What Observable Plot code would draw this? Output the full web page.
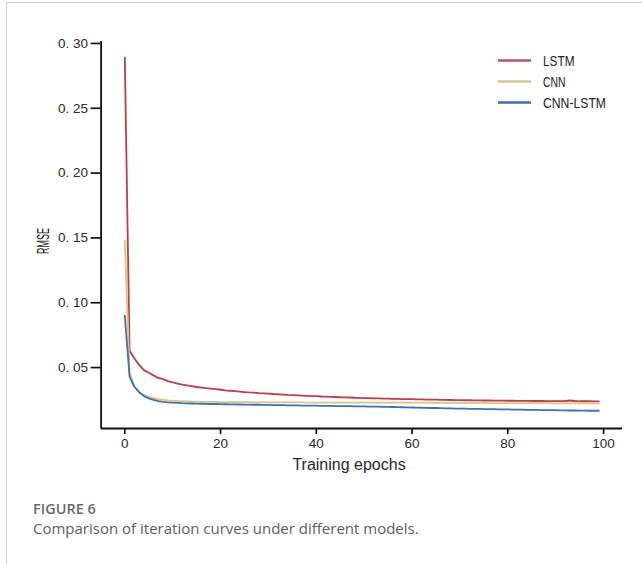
<!DOCTYPE html>
<html>
<head>
<meta charset="utf-8">
<script src="https://cdn.jsdelivr.net/npm/d3@7"></script>
<script src="https://cdn.jsdelivr.net/npm/@observablehq/plot@0.6"></script>
<style>
  html, body { margin: 0; padding: 0; background: #fff; }
  #page { position: relative; width: 642px; height: 564px; overflow: hidden; }
  #frame { position: absolute; left: 6px; top: 2px; right: -2px; bottom: -2px;
           border-left: 1.5px solid #cfcfcf; border-top: 1.5px solid #cfcfcf; }
  #chart { position: absolute; left: 0; top: 0; }
  #legend { position: absolute; left: 0; top: 0; }
  #cap1 { position: absolute; left: 33px; top: 501px; font: 600 14.5px/16px "Open Sans", sans-serif; color: #6a6a6a; }
  #cap2 { position: absolute; left: 33px; top: 519px; font: 400 15px/18px "Open Sans", sans-serif; color: #5e5e5e; }
</style>
</head>
<body>
<div id="page">
  <div id="frame"></div>
  <div id="chart"></div>
  <svg id="legend" width="642" height="140"></svg>
  <div id="cap1">FIGURE 6</div>
  <div id="cap2">Comparison of iteration curves under different models.</div>
</div>
<script>
const seriesNames = ["LSTM", "CNN", "CNN-LSTM"];
const seriesColors = ["#c23b45", "#dcc37e", "#3c6fbd"];
const legendColors = ["#b9525d", "#d9c690", "#3d6db8"];
const xTicks = [0, 20, 40, 60, 80, 100];
const yTicks = [0.05, 0.10, 0.15, 0.20, 0.25, 0.30];
const xTitle = "Training epochs";
const yTitle = "RMSE";

const lstm = [0.289,0.063,0.057,0.052,0.048,0.046,0.044,0.042,0.041,0.0395,
0.0385,0.0376,0.0369,0.0362,0.0356,0.0350,0.0346,0.0341,0.0337,0.0333,
0.0329,0.0324,0.0321,0.0318,0.0315,0.0311,0.0308,0.0306,0.0303,0.0301,
0.0299,0.0296,0.0294,0.0292,0.0289,0.0288,0.0286,0.0284,0.0282,0.0280,
0.0279,0.0277,0.0276,0.0274,0.0273,0.0271,0.0270,0.0269,0.0267,0.0266,
0.0265,0.0264,0.0263,0.0262,0.0261,0.0260,0.0259,0.0258,0.0257,0.0256,
0.0256,0.0255,0.0254,0.0253,0.0252,0.0252,0.0251,0.0251,0.0250,0.0249,
0.0249,0.0248,0.0248,0.0247,0.0247,0.0246,0.0246,0.0245,0.0245,0.0245,
0.0244,0.0244,0.0243,0.0243,0.0243,0.0242,0.0242,0.0242,0.0241,0.0241,
0.0241,0.0241,0.0242,0.0246,0.0242,0.0240,0.0240,0.0240,0.0239,0.0239];

const cnn = [0.148,0.046,0.036,0.031,0.0290,0.0275,0.0265,0.0257,0.0251,0.0247,
0.0244,0.0242,0.0240,0.0239,0.0238,0.0237,0.0236,0.0236,0.0235,0.0235,
0.0234,0.0234,0.0234,0.0233,0.0233,0.0233,0.0233,0.0232,0.0232,0.0232,
0.0232,0.0232,0.0231,0.0231,0.0231,0.0231,0.0231,0.0231,0.0230,0.0230,
0.0230,0.0230,0.0230,0.0230,0.0230,0.0230,0.0230,0.0230,0.0230,0.0230,
0.0230,0.0230,0.0230,0.0229,0.0229,0.0229,0.0229,0.0229,0.0229,0.0229,
0.0229,0.0229,0.0229,0.0229,0.0229,0.0228,0.0228,0.0228,0.0228,0.0228,
0.0228,0.0227,0.0227,0.0227,0.0227,0.0227,0.0226,0.0226,0.0226,0.0226,
0.0226,0.0226,0.0225,0.0225,0.0225,0.0225,0.0225,0.0225,0.0225,0.0224,
0.0224,0.0224,0.0224,0.0224,0.0224,0.0224,0.0224,0.0224,0.0224,0.0224];

const cnnLstm = [0.090,0.043,0.035,0.031,0.0280,0.0262,0.0250,0.0242,0.0236,0.0232,
0.0229,0.0227,0.0225,0.0224,0.0223,0.0222,0.0221,0.0220,0.0219,0.0219,
0.0218,0.0217,0.0216,0.0216,0.0215,0.0214,0.0214,0.0213,0.0213,0.0212,
0.0212,0.0211,0.0210,0.0210,0.0209,0.0209,0.0208,0.0207,0.0207,0.0206,
0.0206,0.0205,0.0205,0.0204,0.0203,0.0203,0.0202,0.0202,0.0201,0.0201,
0.0200,0.0199,0.0199,0.0198,0.0197,0.0197,0.0196,0.0195,0.0194,0.0193,
0.0192,0.0191,0.0190,0.0189,0.0188,0.0188,0.0187,0.0186,0.0185,0.0184,
0.0183,0.0183,0.0182,0.0181,0.0181,0.0180,0.0179,0.0179,0.0178,0.0177,
0.0177,0.0176,0.0175,0.0175,0.0174,0.0173,0.0173,0.0172,0.0172,0.0171,
0.0171,0.0170,0.0170,0.0169,0.0169,0.0168,0.0168,0.0167,0.0167,0.0167];

const seriesValues = [lstm, cnn, cnnLstm];
const rows = [];
seriesValues.forEach((vals, s) => vals.forEach((v, i) => rows.push({epoch: i, rmse: v, model: seriesNames[s]})));

const xDomain = [-4.95, 103.95];
const yDomain = [0.003, 0.3015];

const chart = Plot.plot({
  width: 642,
  height: 480,
  marginLeft: 100.6,
  marginRight: 20,
  marginTop: 41,
  marginBottom: 52,
  style: { fontFamily: "'Liberation Sans', Arial, sans-serif", color: "#222", background: "transparent" },
  x: { domain: xDomain, ticks: xTicks, tickSize: 6, tickPadding: 4, label: null },
  y: { domain: yDomain, ticks: yTicks, tickSize: 10, tickPadding: 3, tickFormat: d => d3.format(".2f")(d).replace(".", ". "), label: null },
  color: { domain: seriesNames, range: seriesColors },
  marks: [
    Plot.ruleX([xDomain[0]], { stroke: "#111", strokeWidth: 1.8 }),
    Plot.ruleY([yDomain[0]], { stroke: "#111", strokeWidth: 1.8 }),
    Plot.line(rows, { x: "epoch", y: "rmse", z: "model", stroke: "model", strokeWidth: 1.8 })
  ]
});
chart.querySelectorAll("g[aria-label='x-axis tick'], g[aria-label='y-axis tick']").forEach(g => {
  g.setAttribute("stroke", "#111"); g.setAttribute("stroke-width", "1.7"); g.setAttribute("stroke-opacity", "1");
});
chart.querySelectorAll("text").forEach(t => {
  t.style.fontSize = "13.5px";
  t.style.fontFamily = "'Liberation Sans', Arial, sans-serif";
  t.style.fill = "#2a2a2a";
});
document.getElementById("chart").appendChild(chart);

const ns = "http://www.w3.org/2000/svg";
// x axis title
const xt = document.createElementNS(ns, "text");
xt.setAttribute("x", 349); xt.setAttribute("y", 470);
xt.setAttribute("text-anchor", "middle");
xt.style.fontFamily = "'Liberation Sans', Arial, sans-serif";
xt.style.fontSize = "16px";
xt.style.fill = "#2a2a2a";
xt.textContent = xTitle;
chart.appendChild(xt);
// y axis title
const yt = document.createElementNS(ns, "text");
yt.setAttribute("transform", "translate(48.5,241) rotate(-90)");
yt.setAttribute("text-anchor", "middle");
yt.setAttribute("textLength", "26");
yt.setAttribute("lengthAdjust", "spacingAndGlyphs");
yt.style.fontFamily = "'Liberation Sans', Arial, sans-serif";
yt.style.fontSize = "16.5px";
yt.style.fill = "#222";
yt.textContent = yTitle;
chart.appendChild(yt);

// legend
const legendWidths = [31.5, 22.5, 63];
const lg = d3.select("#legend");
seriesNames.forEach((name, i) => {
  const y = 60.5 + i * 21;
  lg.append("line").attr("x1", 498).attr("x2", 531).attr("y1", y).attr("y2", y)
    .attr("stroke", legendColors[i]).attr("stroke-width", 2.4);
  lg.append("text").attr("x", 543).attr("y", y + 5.5).text(name)
    .attr("textLength", legendWidths[i]).attr("lengthAdjust", "spacingAndGlyphs")
    .style("font-family", "'Liberation Sans', Arial, sans-serif")
    .style("font-size", "15px")
    .style("fill", "#222");
});
</script>
</body>
</html>
